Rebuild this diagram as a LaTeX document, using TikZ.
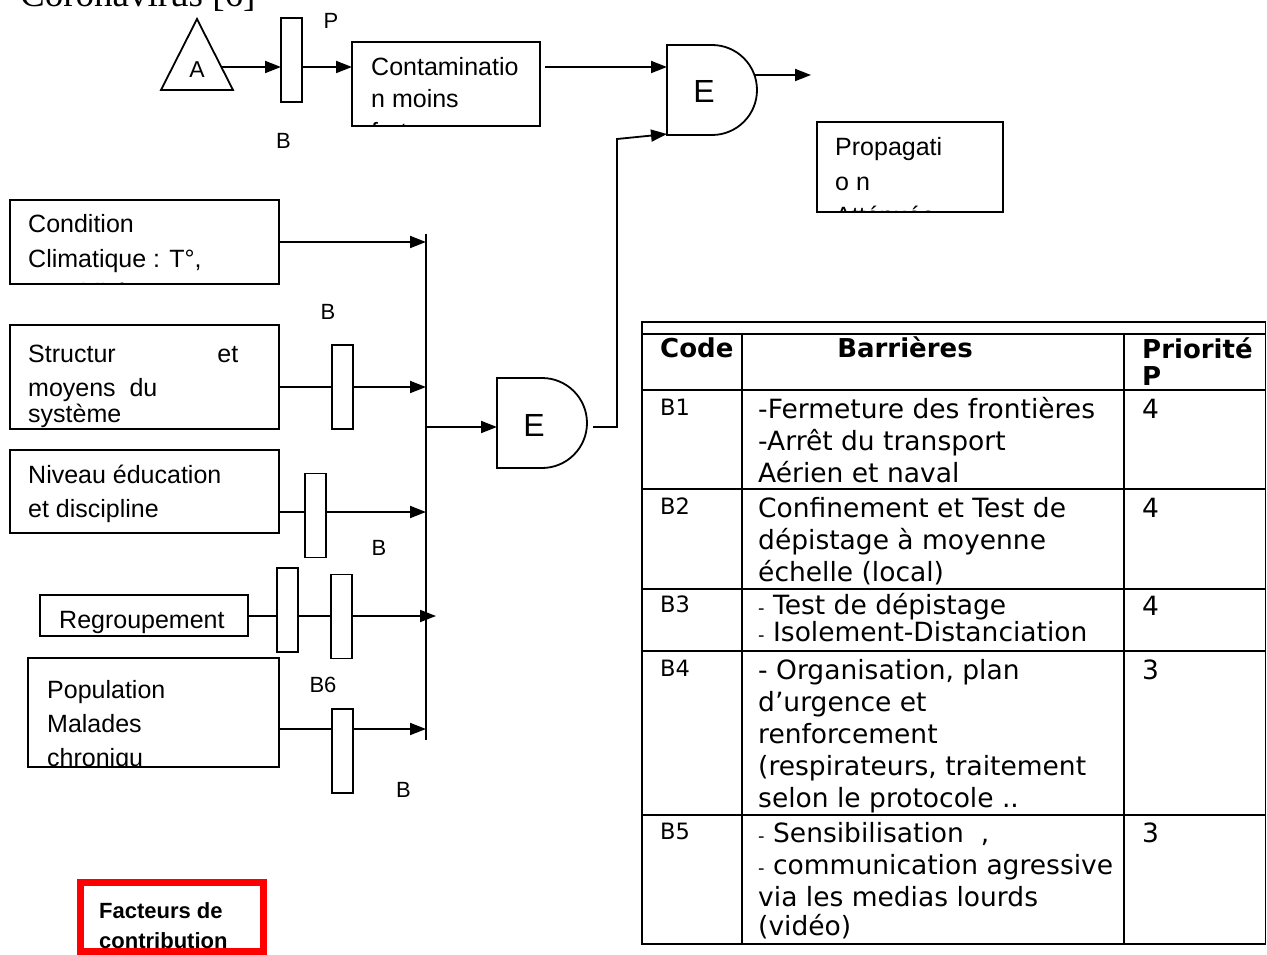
\documentclass[tikz,border=0pt]{standalone}
\usepackage{fontspec}
\setmainfont{Liberation Sans}
\newfontfamily\tabfont{DejaVu Sans}
\newfontfamily\titlefont{Liberation Serif}
\usetikzlibrary{arrows.meta,calc}

\begin{document}
\begin{tikzpicture}[x=1pt,y=-1pt,
  ln/.style={line width=1.8pt},
  arr/.style={ln,-{Triangle[length=16pt,width=12pt]}},
  box/.style={draw,line width=1.8pt,rectangle,inner sep=0pt,outer sep=0pt},
  barrier/.style={draw,line width=1.8pt,rectangle,inner sep=0pt,outer sep=0pt,minimum width=21pt,minimum height=84pt},
  txt/.style={anchor=base west,inner sep=0pt,font=\fontsize{25}{34}\selectfont},
  lbl/.style={anchor=center,inner sep=0pt,font=\fontsize{22}{26}\selectfont},
  gate/.style={rectangle,inner sep=0pt,outer sep=0pt,minimum width=90pt,minimum height=90pt},
  gatelbl/.style={anchor=base,inner sep=0pt,font=\fontsize{32}{36}\selectfont},
  tline/.style={line width=1.9pt},
  ttxt/.style={anchor=base west,inner sep=0pt,font=\tabfont\fontsize{26.5}{32}\selectfont},
  tcode/.style={anchor=base west,inner sep=0pt,font=\tabfont\fontsize{22.5}{28}\selectfont},
  thead/.style={inner sep=0pt,font=\tabfont\bfseries\fontsize{26}{30}\selectfont},
  redtxt/.style={anchor=base west,inner sep=0pt,font=\bfseries\fontsize{22}{26}\selectfont}
]
\clip (0,0) rectangle (1267,955);

% title (cut off at top)
\node[anchor=base west,inner sep=0pt,font=\titlefont\fontsize{37}{40}\selectfont] (title) at (20,7) {Coronavirus [6]};

% ---------- top branch ----------
\coordinate (tA) at (197,19);
\coordinate (tL) at (161,90);
\coordinate (tR) at (233,90);
\draw[ln,line join=miter] (tA) -- (tL) -- (tR) -- cycle;
\node[anchor=center,inner sep=0pt,font=\fontsize{23}{26}\selectfont] (Alab) at (197,70) {A};
\coordinate (tOut) at (221.5,67);

\node[barrier] (bar0) at (291.5,60) {};
\node[lbl] (P0) at (331,21) {P};
\node[lbl] (B0) at (283.5,140.5) {B};

\node[box,minimum width=188pt,minimum height=84pt] (contam) at (446,84) {};
\begin{scope}
\clip (contam.north west) rectangle (contam.south east);
\node[txt] (contam1) at (371,76) {Contaminatio};
\node[txt] (contam2) at (371,108) {n moins};
\node[txt] (contam3) at (371,141) {forte};
\end{scope}

\node[gate] (g1) at (712,90) {};
\draw[ln] (g1.north west) -- (g1.north)
  .. controls ($(g1.north)+(24.85,0)$) and ($(g1.east)+(0,-24.85)$) .. (g1.east)
  .. controls ($(g1.east)+(0,24.85)$) and ($(g1.south)+(24.85,0)$) .. (g1.south)
  -- (g1.south west) -- cycle;
\node[gatelbl] (g1E) at (704,102.5) {E};

\draw[arr] (tOut) -- (tOut -| bar0.west);
\draw[arr] (tOut -| bar0.east) -- (tOut -| contam.west);
\draw[arr] ($(contam.east |- tOut)+(5,0)$) -- (tOut -| g1.west);

\coordinate (outS) at (754.5,75);
\coordinate (outE) at (811,75);
\draw[arr] (outS) -- (outE);

\node[box,minimum width=186pt,minimum height=90pt] (prop) at (910,167) {};
\begin{scope}
\clip (prop.north west) rectangle (prop.south east);
\node[txt] (prop1) at (835,156) {Propagati};
\node[txt] (prop2) at (835,190) {o n};
\node[txt] (prop3) at (835,224) {Atténuée};
\end{scope}

% ---------- contributing factors ----------
\coordinate (busTop) at (426,234);
\coordinate (busBot) at (426,740);
\draw[ln] (busTop) -- (busBot);

% Condition climatique
\node[box,minimum width=269pt,minimum height=84pt] (cond) at (144.5,242) {};
\begin{scope}
\clip (cond.north west) rectangle (cond.south east);
\node[txt] (cond1) at (28,233) {Condition};
\node[txt] (cond2) at (28,267) {Climatique : T°,};
\node[txt] (cond3) at (28,301) {Humidité};
\end{scope}
\draw[arr] (cond.east) -- (cond.east -| busTop);

% Structure
\node[lbl] (B1l) at (328,312) {B};
\node[box,minimum width=269pt,minimum height=104pt] (struct) at (144.5,377) {};
\node[txt] (struct1) at (28,362) {\makebox[210pt][l]{Structur\hfill et}};
\node[txt] (struct2) at (28,396) {moyens\ \ du};
\node[txt] (struct3) at (28,422) {système};
\node[barrier] (bar1) at (342.5,387) {};
\draw[ln] (struct.east |- bar1) -- (bar1.west);
\draw[arr] (bar1.east) -- (bar1.east -| busTop);

% bus to lower gate
\node[gate] (g2) at (542,423) {};
\draw[ln] (g2.north west) -- (g2.north)
  .. controls ($(g2.north)+(24.85,0)$) and ($(g2.east)+(0,-24.85)$) .. (g2.east)
  .. controls ($(g2.east)+(0,24.85)$) and ($(g2.south)+(24.85,0)$) .. (g2.south)
  -- (g2.south west) -- cycle;
\node[gatelbl] (g2E) at (534,436.5) {E};
\coordinate (busG) at (426,427);
\draw[arr] (busG) -- (busG -| g2.west);

\coordinate (g2out) at (593,427);
\coordinate (elb1) at (617,427);
\coordinate (elb2) at (617,139);
\coordinate (g1in2) at (667,134);
\draw[arr,line join=miter] (g2out) -- (elb1) -- (elb2) -- (g1in2);

% Niveau education
\node[box,minimum width=269pt,minimum height=83pt] (niveau) at (144.5,491.5) {};
\node[txt] (niv1) at (28,483) {Niveau éducation};
\node[txt] (niv2) at (28,517) {et discipline};
\node[barrier] (bar2) at (315.5,515.5) {};
\coordinate (nivY) at (0,512);
\draw[ln] (niveau.east |- nivY) -- (bar2.west |- nivY);
\draw[arr] (bar2.east |- nivY) -- (busTop |- nivY);
\node[lbl] (B2l) at (379,547.5) {B};

% Regroupement
\node[box,minimum width=208pt,minimum height=41pt] (regroup) at (144,615.5) {};
\node[txt] (reg1) at (59,628) {Regroupement};
\node[barrier] (bar3) at (287.5,610) {};
\node[barrier] (bar4) at (341.5,616.5) {};
\coordinate (reY) at (0,616);
\coordinate (reEnd) at (436,616);
\draw[ln] (regroup.east |- reY) -- (bar3.west |- reY);
\draw[ln] (bar3.east |- reY) -- (bar4.west |- reY);
\draw[arr] (bar4.east |- reY) -- (reEnd);
\node[lbl] (B6l) at (323,684.5) {B6};

% Population
\node[box,minimum width=251pt,minimum height=109pt] (popul) at (153.5,712.5) {};
\begin{scope}
\clip (popul.north west) rectangle (popul.south east);
\node[txt] (pop1) at (47,698) {Population};
\node[txt] (pop2) at (47,732) {Malades};
\node[txt] (pop3) at (47,766) {chroniqu};
\end{scope}
\node[barrier] (bar5) at (342.5,751) {};
\coordinate (poY) at (0,729);
\draw[ln] (popul.east |- poY) -- (bar5.west |- poY);
\draw[arr] (bar5.east |- poY) -- (busTop |- poY);
\node[lbl] (B5l) at (403.5,789.5) {B};

% Facteurs de contribution
\node[draw=red,line width=6.5pt,rectangle,inner sep=0pt,minimum width=183pt,minimum height=69pt] (redbox) at (172,917) {};
\node[redtxt] (red1) at (99,918) {Facteurs de};
\node[redtxt] (red2) at (99,948) {contribution};

% ---------- table ----------
\draw[tline] (642,322) -- (1265.5,322);
\foreach \yy in {334,390,489,589,651,815,944} {\draw[tline] (642,\yy) -- (1265.5,\yy);}
\draw[tline] (642,321) -- (642,945);
\draw[tline] (1265.5,321) -- (1265.5,945);
\draw[tline] (742,334) -- (742,944);
\draw[tline] (1124,334) -- (1124,944);

\node[thead,anchor=base west] (hCode) at (660,357) {Code};
\node[thead,anchor=base] (hBar) at (905,357) {Barrières};
\node[thead,anchor=base west] (hPri) at (1142,358) {Priorité};
\node[thead,anchor=base west] (hP) at (1142,385) {P};

% B1
\node[tcode] (c1) at (660,415) {B1};
\node[ttxt] (b1a) at (758,418) {-Fermeture des frontières};
\node[ttxt] (b1b) at (758,450) {-Arrêt du transport};
\node[ttxt] (b1c) at (758,482) {Aérien et naval};
\node[ttxt] (p1) at (1142,418) {4};
% B2
\node[tcode] (c2) at (660,514) {B2};
\node[ttxt] (b2a) at (758,517) {Confinement et Test de};
\node[ttxt] (b2b) at (758,549) {dépistage à moyenne};
\node[ttxt] (b2c) at (758,581) {échelle (local)};
\node[ttxt] (p2) at (1142,517) {4};
% B3
\node[tcode] (c3) at (660,612) {B3};
\node[ttxt] (b3a) at (758,614) {{\fontsize{18}{20}\selectfont -} Test de dépistage};
\node[ttxt] (b3b) at (758,641) {{\fontsize{18}{20}\selectfont -} Isolement-Distanciation};
\node[ttxt] (p3) at (1142,615) {4};
% B4
\node[tcode] (c4) at (660,676) {B4};
\node[ttxt] (b4a) at (758,679) {- Organisation, plan};
\node[ttxt] (b4b) at (758,711) {d’urgence et};
\node[ttxt] (b4c) at (758,743) {renforcement};
\node[ttxt] (b4d) at (758,775) {(respirateurs, traitement};
\node[ttxt] (b4e) at (758,807) {selon le protocole ..};
\node[ttxt] (p4) at (1142,679) {3};
% B5
\node[tcode] (c5) at (660,839) {B5};
\node[ttxt] (b5a) at (758,842) {{\fontsize{18}{20}\selectfont -} Sensibilisation\ \ ,};
\node[ttxt] (b5b) at (758,874) {{\fontsize{18}{20}\selectfont -} communication agressive};
\node[ttxt] (b5c) at (758,906) {via les medias lourds};
\node[ttxt] (b5d) at (758,935) {(vidéo)};
\node[ttxt] (p5) at (1142,842) {3};
\end{tikzpicture}
\end{document}
